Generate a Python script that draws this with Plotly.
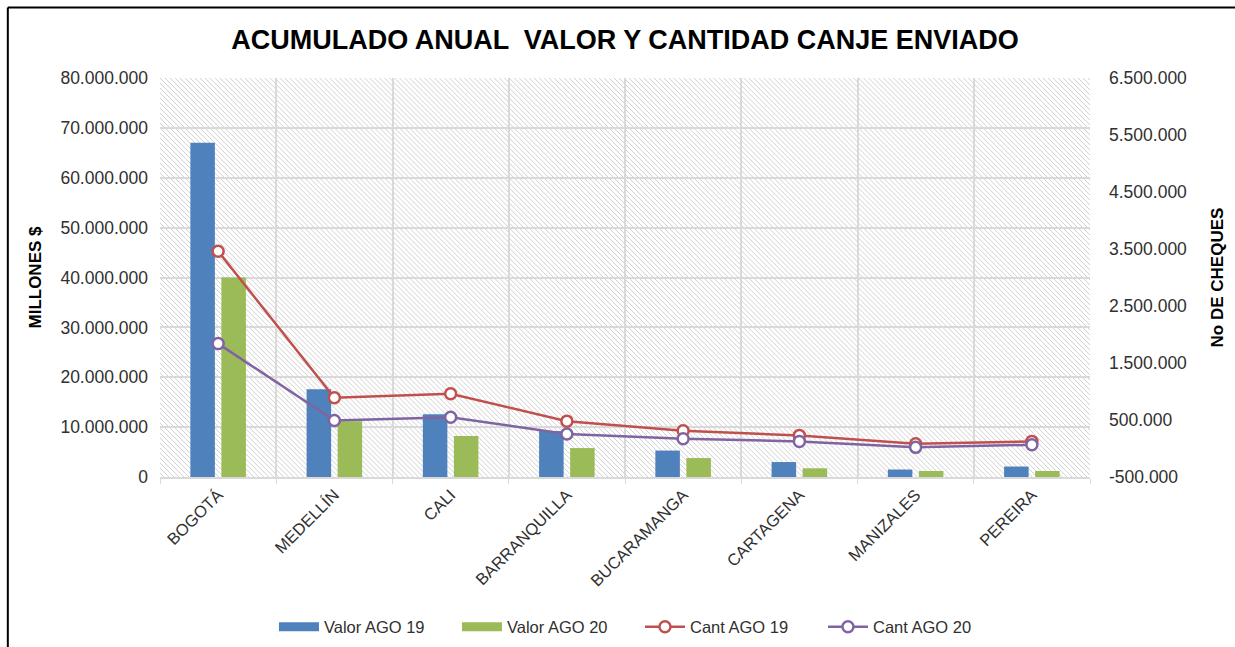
import base64
import plotly.graph_objects as go

# ---------------- data ----------------
cities = ["BOGOTÁ", "MEDELLÍN", "CALI", "BARRANQUILLA", "BUCARAMANGA",
          "CARTAGENA", "MANIZALES", "PEREIRA"]
valor_ago19 = [67.0e6, 17.6e6, 12.6e6, 9.2e6, 5.3e6, 3.0e6, 1.5e6, 2.1e6]
valor_ago20 = [40.0e6, 11.2e6, 8.2e6, 5.8e6, 3.8e6, 1.75e6, 1.2e6, 1.2e6]
cant_ago19 = [3.46e6, 0.89e6, 0.96e6, 0.48e6, 0.31e6, 0.23e6, 0.085e6, 0.125e6]
cant_ago20 = [1.84e6, 0.49e6, 0.55e6, 0.255e6, 0.17e6, 0.125e6, 0.02e6, 0.065e6]

left_tickvals = [0, 10e6, 20e6, 30e6, 40e6, 50e6, 60e6, 70e6, 80e6]
left_ticktext = ["0", "10.000.000", "20.000.000", "30.000.000", "40.000.000",
                 "50.000.000", "60.000.000", "70.000.000", "80.000.000"]
right_tickvals = [-0.5e6, 0.5e6, 1.5e6, 2.5e6, 3.5e6, 4.5e6, 5.5e6, 6.5e6]
right_ticktext = ["-500.000", "500.000", "1.500.000", "2.500.000", "3.500.000",
                  "4.500.000", "5.500.000", "6.500.000"]

# ---------------- styles ----------------
FONT = "Liberation Sans, Arial, sans-serif"
TXT = "#303030"
GRID = "#d9d9d9"
C_BLUE, C_GREEN, C_RED, C_PURPLE = "#4f81bd", "#9bbb59", "#c0504d", "#8064a2"

W, H = 1235, 647
ML, MR, MT, MB = 160, 143, 78, 170
PW, PH = W - ML - MR, H - MT - MB

# diagonal hatch background for plot area
svg = (f'<svg xmlns="http://www.w3.org/2000/svg" width="{PW}" height="{PH}" '
       f'viewBox="0 0 {PW} {PH}" preserveAspectRatio="none">'
       '<defs><pattern id="p" width="5" height="5" patternUnits="userSpaceOnUse">'
       '<path d="M-1,-1 L6,6 M-1,4 L1,6 M4,-1 L6,1" stroke="#cbcbcb" stroke-width="0.9"/>'
       '</pattern></defs>'
       f'<rect width="{PW}" height="{PH}" fill="white"/>'
       f'<rect width="{PW}" height="{PH}" fill="url(#p)"/></svg>')
svg_uri = "data:image/svg+xml;base64," + base64.b64encode(svg.encode()).decode()

fig = go.Figure()
fig.add_trace(go.Bar(x=cities, y=valor_ago19, name="Valor AGO 19",
                     legendgroup="v19", showlegend=False,
                     marker=dict(color=C_BLUE, line=dict(width=0))))
fig.add_trace(go.Bar(x=cities, y=valor_ago20, name="Valor AGO 20",
                     legendgroup="v20", showlegend=False,
                     marker=dict(color=C_GREEN, line=dict(width=0))))
# legend keys for the bars drawn as wide rectangles (no marks on the plot)
fig.add_trace(go.Scatter(x=[None], y=[None], name="Valor AGO 19", legendgroup="v19",
                         mode="lines", line=dict(color=C_BLUE, width=9)))
fig.add_trace(go.Scatter(x=[None], y=[None], name="Valor AGO 20", legendgroup="v20",
                         mode="lines", line=dict(color=C_GREEN, width=9)))
fig.add_trace(go.Scatter(x=cities, y=cant_ago19, name="Cant AGO 19", yaxis="y2",
                         mode="lines+markers",
                         line=dict(color=C_RED, width=2.5),
                         marker=dict(symbol="circle", size=11, color="white",
                                     line=dict(color=C_RED, width=2.5))))
fig.add_trace(go.Scatter(x=cities, y=cant_ago20, name="Cant AGO 20", yaxis="y2",
                         mode="lines+markers",
                         line=dict(color=C_PURPLE, width=2.5),
                         marker=dict(symbol="circle", size=11, color="white",
                                     line=dict(color=C_PURPLE, width=2.5))))

# outer frame (partially visible top/left borders)
def px_x(p):
    return (p - ML) / PW

def px_y(p):
    return (H - MB - p) / PH

shapes = [
    dict(type="line", xref="paper", yref="paper", x0=px_x(7.5), x1=px_x(W + 10),
         y0=px_y(7.5), y1=px_y(7.5), line=dict(color="black", width=2)),
    dict(type="line", xref="paper", yref="paper", x0=px_x(7.5), x1=px_x(7.5),
         y0=px_y(7.5), y1=px_y(H + 10), line=dict(color="black", width=2)),
]

fig.update_layout(
    width=W, height=H,
    margin=dict(l=ML, r=MR, t=MT, b=MB, pad=0),
    paper_bgcolor="white", plot_bgcolor="rgba(0,0,0,0)",
    font=dict(family=FONT, color=TXT, size=16),
    separators=",.",
    title=dict(text="<b>ACUMULADO ANUAL  VALOR Y CANTIDAD CANJE ENVIADO</b>",
               x=0.5, xref="paper", xanchor="center",
               y=1 - 40 / H, yref="container", yanchor="middle",
               font=dict(family=FONT, size=27, color="black")),
    barmode="group", bargap=0.466, bargroupgap=0.21,
    xaxis=dict(type="category", range=[-0.5, len(cities) - 0.5],
               tickson="boundaries", ticks="outside", ticklen=5, tickcolor=GRID,
               showgrid=True, gridcolor=GRID, gridwidth=1.5,
               showline=True, linecolor=GRID, linewidth=1.5,
               tickangle=-45, tickfont=dict(size=16.5, color=TXT),
               zeroline=False, fixedrange=True),
    yaxis=dict(range=[0, 80e6], tickvals=left_tickvals, ticktext=left_ticktext,
               showgrid=True, gridcolor=GRID, gridwidth=1.5, zeroline=False,
               ticks="", ticklabelstandoff=11,
               tickfont=dict(size=17.5, color=TXT),
               title=dict(text="<b>MILLONES $</b>", standoff=14,
                          font=dict(size=17, color="black"))),
    yaxis2=dict(range=[-0.5e6, 6.5e6], tickvals=right_tickvals, ticktext=right_ticktext,
                overlaying="y", side="right", showgrid=False, zeroline=False,
                ticks="", ticklabelstandoff=18,
                tickfont=dict(size=17.5, color=TXT),
                title=dict(text="<b>No DE CHEQUES</b>", standoff=24,
                           font=dict(size=17, color="black"))),
    legend=dict(orientation="h", x=0.5 + 15 / PW, xanchor="center", xref="paper",
                y=1 - 627 / H, yanchor="middle", yref="container",
                font=dict(size=16.5, color=TXT), bgcolor="rgba(0,0,0,0)",
                traceorder="normal", itemwidth=40,
                entrywidth=128, entrywidthmode="pixels"),
    images=[dict(source=svg_uri, xref="paper", yref="paper", x=0, y=1,
                 sizex=1, sizey=1, xanchor="left", yanchor="top",
                 sizing="stretch", layer="below")],
    shapes=shapes,
    showlegend=True,
)

fig.write_html("out.html", config={"displayModeBar": False},
               post_script="document.body.style.margin='0px';")
